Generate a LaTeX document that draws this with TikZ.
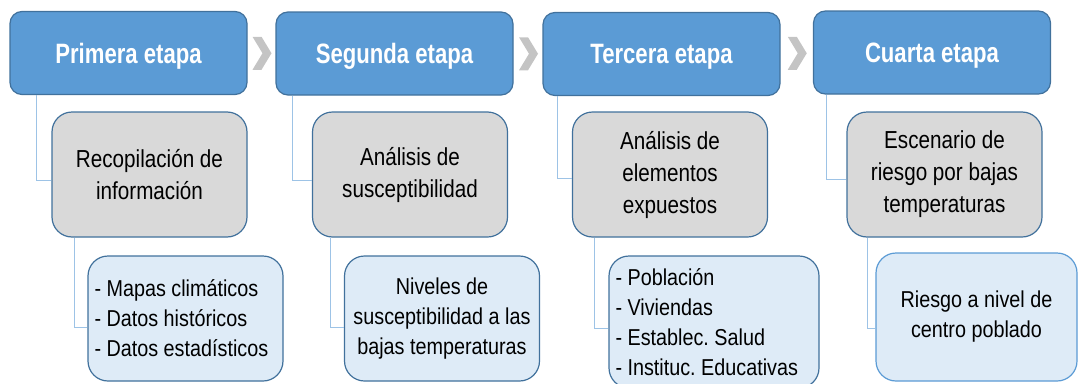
\documentclass[tikz,border=0pt]{standalone}
\usepackage{fontspec}
\setmainfont{Liberation Sans}[FakeStretch=0.86]
\newfontfamily\stagefont{Liberation Sans}[FakeStretch=0.79]
\newfontfamily\taskfont{Liberation Sans}[FakeStretch=0.84]
\usetikzlibrary{positioning,calc}
\definecolor{stageblue}{HTML}{5B9BD5}
\definecolor{edgeblue}{HTML}{41719C}
\definecolor{taskgray}{HTML}{D9D9D9}
\definecolor{resultblue}{HTML}{DEEBF7}
\definecolor{linkblue}{HTML}{9DC3E6}
\definecolor{chevgray}{HTML}{C4C4C4}
\tikzset
{
    stagenode/.style = {rectangle, rounded corners=12pt, draw=edgeblue, line width=1.2pt, fill=stageblue, text=white, align=center, minimum width=237pt, minimum height=83pt, text depth=0pt, font=\stagefont\fontsize{28}{32}\selectfont\bfseries},
    tasknode/.style = {rectangle, rounded corners=20pt, draw=edgeblue, line width=1.2pt, fill=taskgray, align=center, minimum width=195pt, minimum height=125pt, font=\taskfont\fontsize{24.6}{32}\selectfont},
    resultnode/.style = {rectangle, rounded corners=20pt, draw=edgeblue, line width=1.2pt, fill=resultblue, align=center, minimum width=195pt, minimum height=125pt, font=\fontsize{23}{30}\selectfont},
    listnode/.style = {resultnode, align=flush left, inner xsep=6.5pt},
    link/.style = {draw=linkblue, line width=1pt},
    chevron/.style = {fill=chevgray}
}

\begin{document}
\begin{tikzpicture}[x=1pt, y=-1pt]
	\clip (0,0) rectangle (1079,383);
	% stages
	\node[stagenode] (stage1) at (128.5,53) {Primera etapa};
	\node[stagenode] (stage2) at (394.5,53.5) {Segunda etapa};
	\node[stagenode] (stage3) at (661.5,54) {Tercera etapa};
	\node[stagenode] (stage4) at (932,52.5) {Cuarta etapa};
	% tasks
	\node[tasknode] (task1) at (149.5,174.5) {Recopilación de\\información};
	\node[tasknode] (task2) at (410,174.5) {Análisis de\\susceptibilidad};
	\node[tasknode] (task3) at (670,174.5) {Análisis de\\elementos\\expuestos};
	\node[tasknode] (task4) at (944.5,174.5) {Escenario de\\riesgo por bajas\\temperaturas};
	% results
	\node[listnode, text width=182pt] (result1) at (185.5,318.5) {- Mapas climáticos\\- Datos históricos\\- Datos estadísticos};
	\node[resultnode] (result2) at (442,318.5) {Niveles de\\susceptibilidad a las\\bajas temperaturas};
	\node[listnode, text width=197pt, minimum height=132pt] (result3) at (714,322) {- Población\\- Viviendas\\- Establec.\ Salud\\- Instituc.\ Educativas};
	\node[resultnode, draw=stageblue, minimum width=201pt, minimum height=128pt] (result4) at (976.5,317) {Riesgo a nivel de\\centro poblado};
	% chevrons
	\fill[chevron] ($(stage1.east)!0.5!(stage2.west)$) ++(-9,-16.5) -- ++(9,0) -- ++(10,16.5) -- ++(-10,16.5) -- ++(-9,0) -- ++(10,-16.5) -- cycle;
	\fill[chevron] ($(stage2.east)!0.5!(stage3.west)$) ++(-9,-16.5) -- ++(9,0) -- ++(10,16.5) -- ++(-10,16.5) -- ++(-9,0) -- ++(10,-16.5) -- cycle;
	\fill[chevron] ($(stage3.east)!0.5!(stage4.west)$) ++(-9,-16.5) -- ++(9,0) -- ++(10,16.5) -- ++(-10,16.5) -- ++(-9,0) -- ++(10,-16.5) -- cycle;
	% links
	\draw[link] ([xshift=27pt]stage1.south west) |- ([yshift=-6pt]task1.west);
	\draw[link] ([xshift=17pt]stage2.south west) |- ([yshift=-6pt]task2.west);
	\draw[link] ([xshift=15pt]stage3.south west) |- ([yshift=-4pt]task3.west);
	\draw[link] ([xshift=14pt]stage4.south west) |- ([yshift=-5pt]task4.west);
	\draw[link] ([xshift=23pt]task1.south west) |- ([yshift=-9pt]result1.west);
	\draw[link] ([xshift=19pt]task2.south west) |- ([yshift=-9pt]result2.west);
	\draw[link] ([xshift=23pt]task3.south west) |- ([yshift=-6pt]result3.west);
	\draw[link] ([xshift=21pt]task4.south west) |- ([yshift=-11pt]result4.west);
\end{tikzpicture}
\end{document}
